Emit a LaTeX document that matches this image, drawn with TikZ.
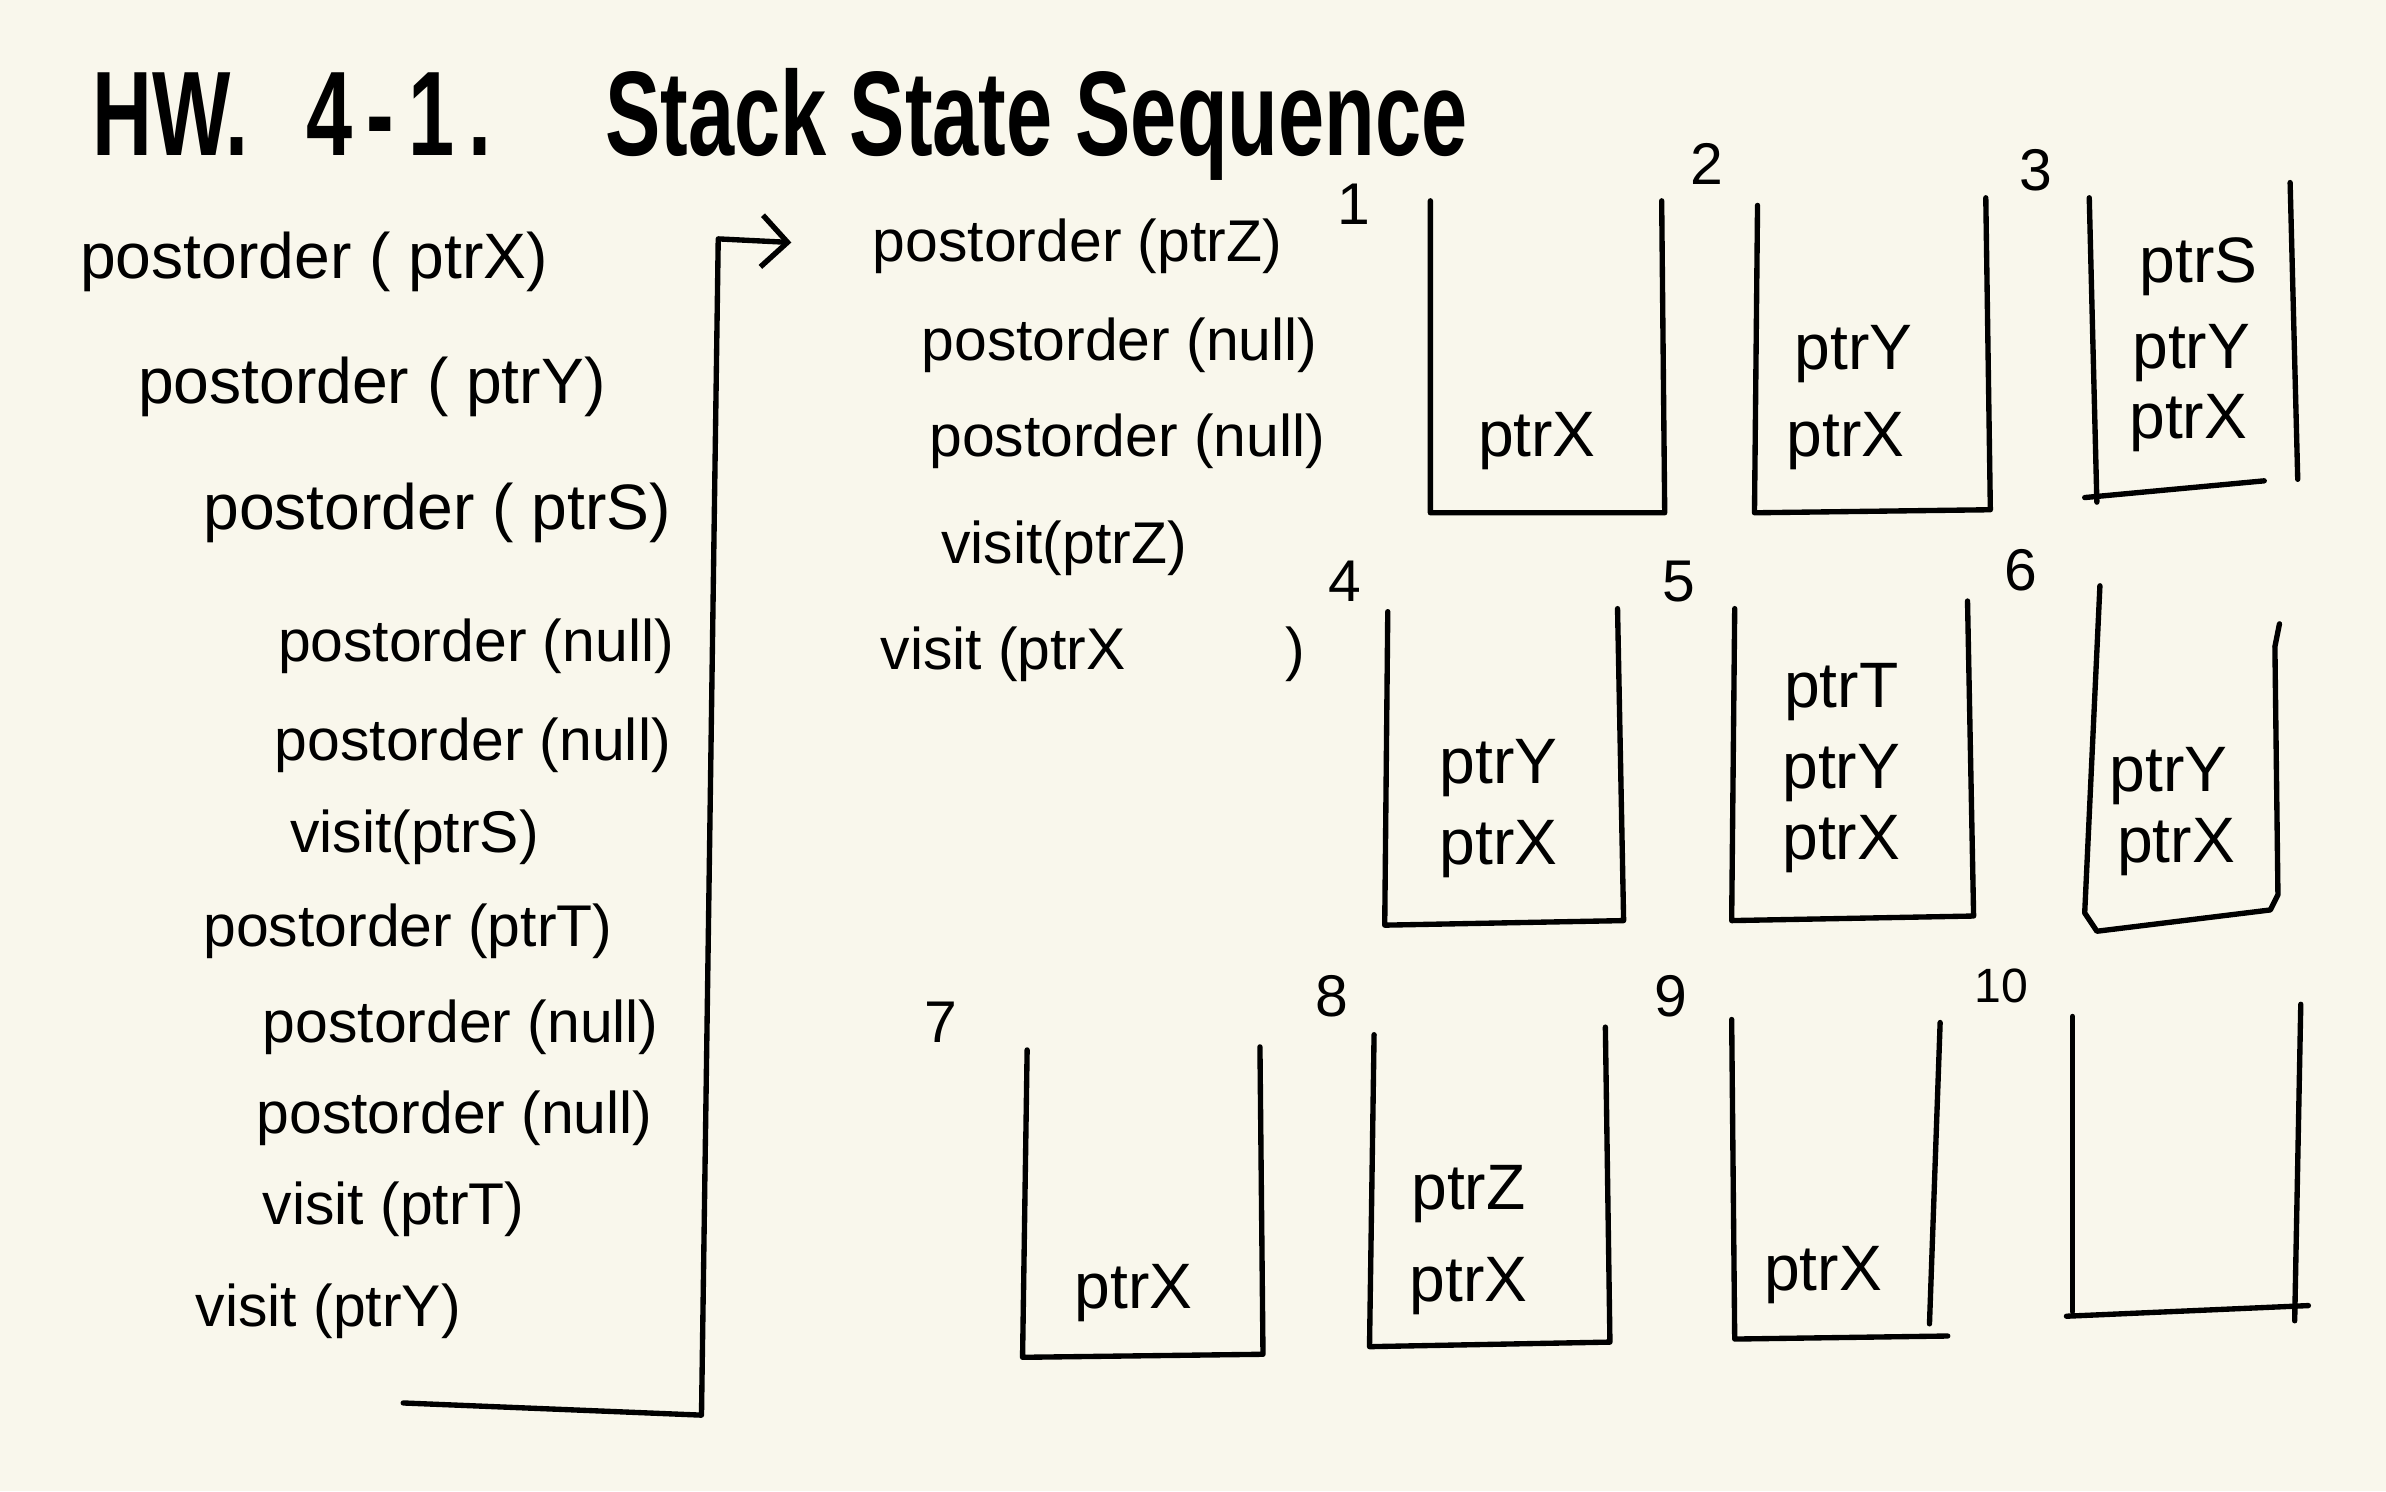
\documentclass[tikz,border=0pt]{standalone}
\usepackage{fontspec}
\setmainfont{Liberation Sans}
\usepackage{tikz}
\usetikzlibrary{arrows.meta, positioning}
\definecolor{papel}{RGB}{249, 247, 236}

\begin{document}
\begin{tikzpicture}[x=0.01cm, y=-0.01cm,
    codigo/.style={anchor=base west, inner sep=0pt, font=\fontsize{11}{13}\selectfont},
    grande/.style={font=\fontsize{12}{14}\selectfont},
    dato/.style={inner sep=0pt, font=\fontsize{12}{14}\selectfont},
    numero/.style={inner sep=0pt, font=\fontsize{11}{13}\selectfont},
    pila/.style={line width=1pt, line join=round, line cap=round}]

    % Fondo
    \fill[papel] (0,0) rectangle (1568,980);
    \useasboundingbox (0,0) rectangle (1568,980);

    % Titulo
    \node[anchor=base west, inner sep=0pt, font=\bfseries\fontsize{15.5}{19}\selectfont] (titulo) at (60,102)
        {\scalebox{1}[1.45]{HW.\hspace{0.38cm}4\,-\,1\,.\hspace{0.75cm}Stack State Sequence}};

    % Columna izquierda
    \node[codigo, grande] (l1) at (52,183) {postorder ( ptrX)};
    \node[codigo, grande] (l2) at (90,265) {postorder ( ptrY)};
    \node[codigo, grande] (l3) at (133,348) {postorder ( ptrS)};
    \node[codigo] (l4) at (182,435) {postorder (null)};
    \node[codigo] (l5) at (180,500) {postorder (null)};
    \node[codigo] (l6) at (190,560) {visit(ptrS)};
    \node[codigo] (l7) at (133,622) {postorder (ptrT)};
    \node[codigo] (l8) at (172,685) {postorder (null)};
    \node[codigo] (l9) at (168,745) {postorder (null)};
    \node[codigo] (l10) at (172,805) {visit (ptrT)};
    \node[codigo] (l11) at (128,872) {visit (ptrY)};

    % Columna central
    \node[codigo] (m1) at (573,172) {postorder (ptrZ)};
    \node[codigo] (m2) at (605,237) {postorder (null)};
    \node[codigo] (m3) at (610,300) {postorder (null)};
    \node[codigo] (m4) at (618,370) {visit(ptrZ)};
    \node[codigo] (m5) at (578,440) {visit (ptrX\hspace{1.05cm})};

    % Flecha de llamada
    \coordinate (cinicio) at (265,922);
    \coordinate (cesquina) at (461,930);
    \coordinate (ctope) at (472,157);
    \draw[pila, -{Straight Barb[length=1.7mm, width=3.4mm]}, shorten >=0.53cm]
        (cinicio) -- (cesquina) -- (ctope) -- (m1.west);

    % Pila 1
    \draw[pila] (940,132) -- (940,337) -- (1094,337) -- (1092,132);
    \node[numero] (n1) at (890,134) {1};
    \node[dato] (p1a) at (1010,290) {ptrX};

    % Pila 2
    \draw[pila] (1155,135) -- (1153,337) -- (1308,335) -- (1305,130);
    \node[numero] (n2) at (1122,108) {2};
    \node[dato] (p2b) at (1218,233) {ptrY};
    \node[dato] (p2a) at (1213,290) {ptrX};

    % Pila 3
    \draw[pila] (1373,130) -- (1378,330);
    \draw[pila] (1370,327) -- (1488,316);
    \draw[pila] (1505,120) -- (1510,315);
    \node[numero] (n3) at (1338,112) {3};
    \node[dato] (p3c) at (1445,175) {ptrS};
    \node[dato] (p3b) at (1440,232) {ptrY};
    \node[dato] (p3a) at (1438,278) {ptrX};

    % Pila 4
    \draw[pila] (912,402) -- (910,608) -- (1067,605) -- (1063,400);
    \node[numero] (n4) at (884,382) {4};
    \node[dato] (p4b) at (985,505) {ptrY};
    \node[dato] (p4a) at (985,558) {ptrX};

    % Pila 5
    \draw[pila] (1140,400) -- (1138,605) -- (1297,602) -- (1293,395);
    \node[numero] (n5) at (1103,382) {5};
    \node[dato] (p5c) at (1210,455) {ptrT};
    \node[dato] (p5b) at (1210,508) {ptrY};
    \node[dato] (p5a) at (1210,555) {ptrX};

    % Pila 6
    \draw[pila] (1380,385) -- (1370,600) -- (1378,612) -- (1492,598) -- (1497,588) -- (1495,425) -- (1498,410);
    \node[numero] (n6) at (1328,375) {6};
    \node[dato] (p6b) at (1425,510) {ptrY};
    \node[dato] (p6a) at (1430,557) {ptrX};

    % Pila 7
    \draw[pila] (675,690) -- (672,892) -- (830,890) -- (828,688);
    \node[numero] (n7) at (618,672) {7};
    \node[dato] (p7a) at (745,850) {ptrX};

    % Pila 8
    \draw[pila] (903,680) -- (900,885) -- (1058,882) -- (1055,675);
    \node[numero] (n8) at (875,655) {8};
    \node[dato] (p8b) at (965,785) {ptrZ};
    \node[dato] (p8a) at (965,845) {ptrX};

    % Pila 9
    \draw[pila] (1138,670) -- (1140,880) -- (1280,878);
    \draw[pila] (1275,672) -- (1268,870);
    \node[numero] (n9) at (1098,655) {9};
    \node[dato] (p9a) at (1198,838) {ptrX};

    % Pila 10
    \draw[pila] (1362,668) -- (1362,862);
    \draw[pila] (1358,865) -- (1517,858);
    \draw[pila] (1512,660) -- (1508,868);
    \node[numero, font=\fontsize{9}{11}\selectfont] (n10) at (1315,648) {10};
\end{tikzpicture}
\end{document}
